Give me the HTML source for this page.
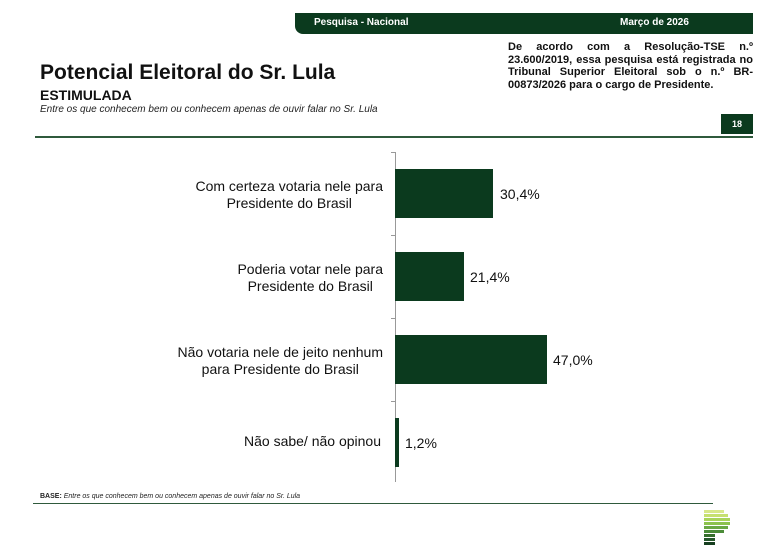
<!DOCTYPE html>
<html><head><meta charset="utf-8"><style>
body{margin:0;width:771px;height:555px;background:#fff;position:relative;font-family:"Liberation Sans",Arial,sans-serif;overflow:hidden}
.a{position:absolute}
.lbl{position:absolute;right:388px;text-align:center;font-size:14px;line-height:17px;color:#111;white-space:nowrap}
.bar{position:absolute;left:395px;background:#0b3a1e}
.v{position:absolute;font-size:14px;color:#111}
</style></head><body>
<div class="a" style="left:295px;top:13px;width:458px;height:21px;background:#0b3a1e;border-bottom-left-radius:8px"></div>
<div class="a" style="left:314px;top:17px;font-size:10px;font-weight:bold;color:#fff">Pesquisa - Nacional</div>
<div class="a" style="left:620px;top:17px;font-size:10px;font-weight:bold;color:#fff">Março de 2026</div>
<div class="a" style="left:508px;top:41px;width:245px;font-size:11px;font-weight:bold;line-height:12.5px;text-align:justify;color:#111">De acordo com a Resolução-TSE n.º 23.600/2019, essa pesquisa está registrada no Tribunal Superior Eleitoral sob o n.º BR-00873/2026 para o cargo de Presidente.</div>
<div class="a" style="left:40px;top:61px;font-size:21px;font-weight:bold;color:#111">Potencial Eleitoral do Sr. Lula</div>
<div class="a" style="left:40px;top:87px;font-size:14px;font-weight:bold;color:#111">ESTIMULADA</div>
<div class="a" style="left:40px;top:104px;font-size:10px;font-style:italic;color:#222">Entre os que conhecem bem ou conhecem apenas de ouvir falar no Sr. Lula</div>
<div class="a" style="left:721px;top:114px;width:32px;height:20px;background:#0b3a1e;color:#fff;font-size:9px;font-weight:bold;text-align:center;line-height:20px">18</div>
<div class="a" style="left:35px;top:136px;width:718px;height:2px;background:#2f5a3c"></div>

<div class="a" style="left:395px;top:152px;width:1px;height:330px;background:#999"></div>
<div class="a" style="left:391px;top:152px;width:4px;height:1px;background:#999"></div>
<div class="a" style="left:391px;top:235px;width:4px;height:1px;background:#999"></div>
<div class="a" style="left:391px;top:318px;width:4px;height:1px;background:#999"></div>
<div class="a" style="left:391px;top:401px;width:4px;height:1px;background:#999"></div>

<div class="lbl" style="top:178px">Com certeza votaria nele para<br>Presidente do Brasil</div>
<div class="bar" style="top:169px;width:98px;height:49px"></div>
<div class="v" style="left:500px;top:186px">30,4%</div>
<div class="lbl" style="top:261px">Poderia votar nele para<br>Presidente do Brasil</div>
<div class="bar" style="top:252px;width:69px;height:49px"></div>
<div class="v" style="left:470px;top:269px">21,4%</div>
<div class="lbl" style="top:344px">Não votaria nele de jeito nenhum<br>para Presidente do Brasil</div>
<div class="bar" style="top:335px;width:152px;height:49px"></div>
<div class="v" style="left:553px;top:352px">47,0%</div>
<div class="lbl" style="top:433px;right:390px">Não sabe/ não opinou</div>
<div class="bar" style="top:418px;width:4px;height:49px"></div>
<div class="v" style="left:405px;top:435px">1,2%</div>

<div class="a" style="left:40px;top:493px;font-size:7px;color:#222"><b>BASE:</b> <i>Entre os que conhecem bem ou conhecem apenas de ouvir falar no Sr. Lula</i></div>
<div class="a" style="left:33px;top:503px;width:680px;height:1px;background:#2f5a3c"></div>
<div class="a" style="left:704px;top:510px">
<div style="width:20px;height:3px;background:#d8e88a;margin-bottom:1px"></div>
<div style="width:24px;height:3px;background:#c6e070;margin-bottom:1px"></div>
<div style="width:26px;height:3px;background:#a9d45a;margin-bottom:1px"></div>
<div style="width:26px;height:3px;background:#8cc24d;margin-bottom:1px"></div>
<div style="width:24px;height:3px;background:#6aa843;margin-bottom:1px"></div>
<div style="width:20px;height:3px;background:#4b8c38;margin-bottom:1px"></div>
<div style="width:11px;height:3px;background:#356f2c;margin-bottom:1px"></div>
<div style="width:11px;height:3px;background:#24562a;margin-bottom:1px"></div>
<div style="width:11px;height:3px;background:#173f20"></div>
</div>
</body></html>
